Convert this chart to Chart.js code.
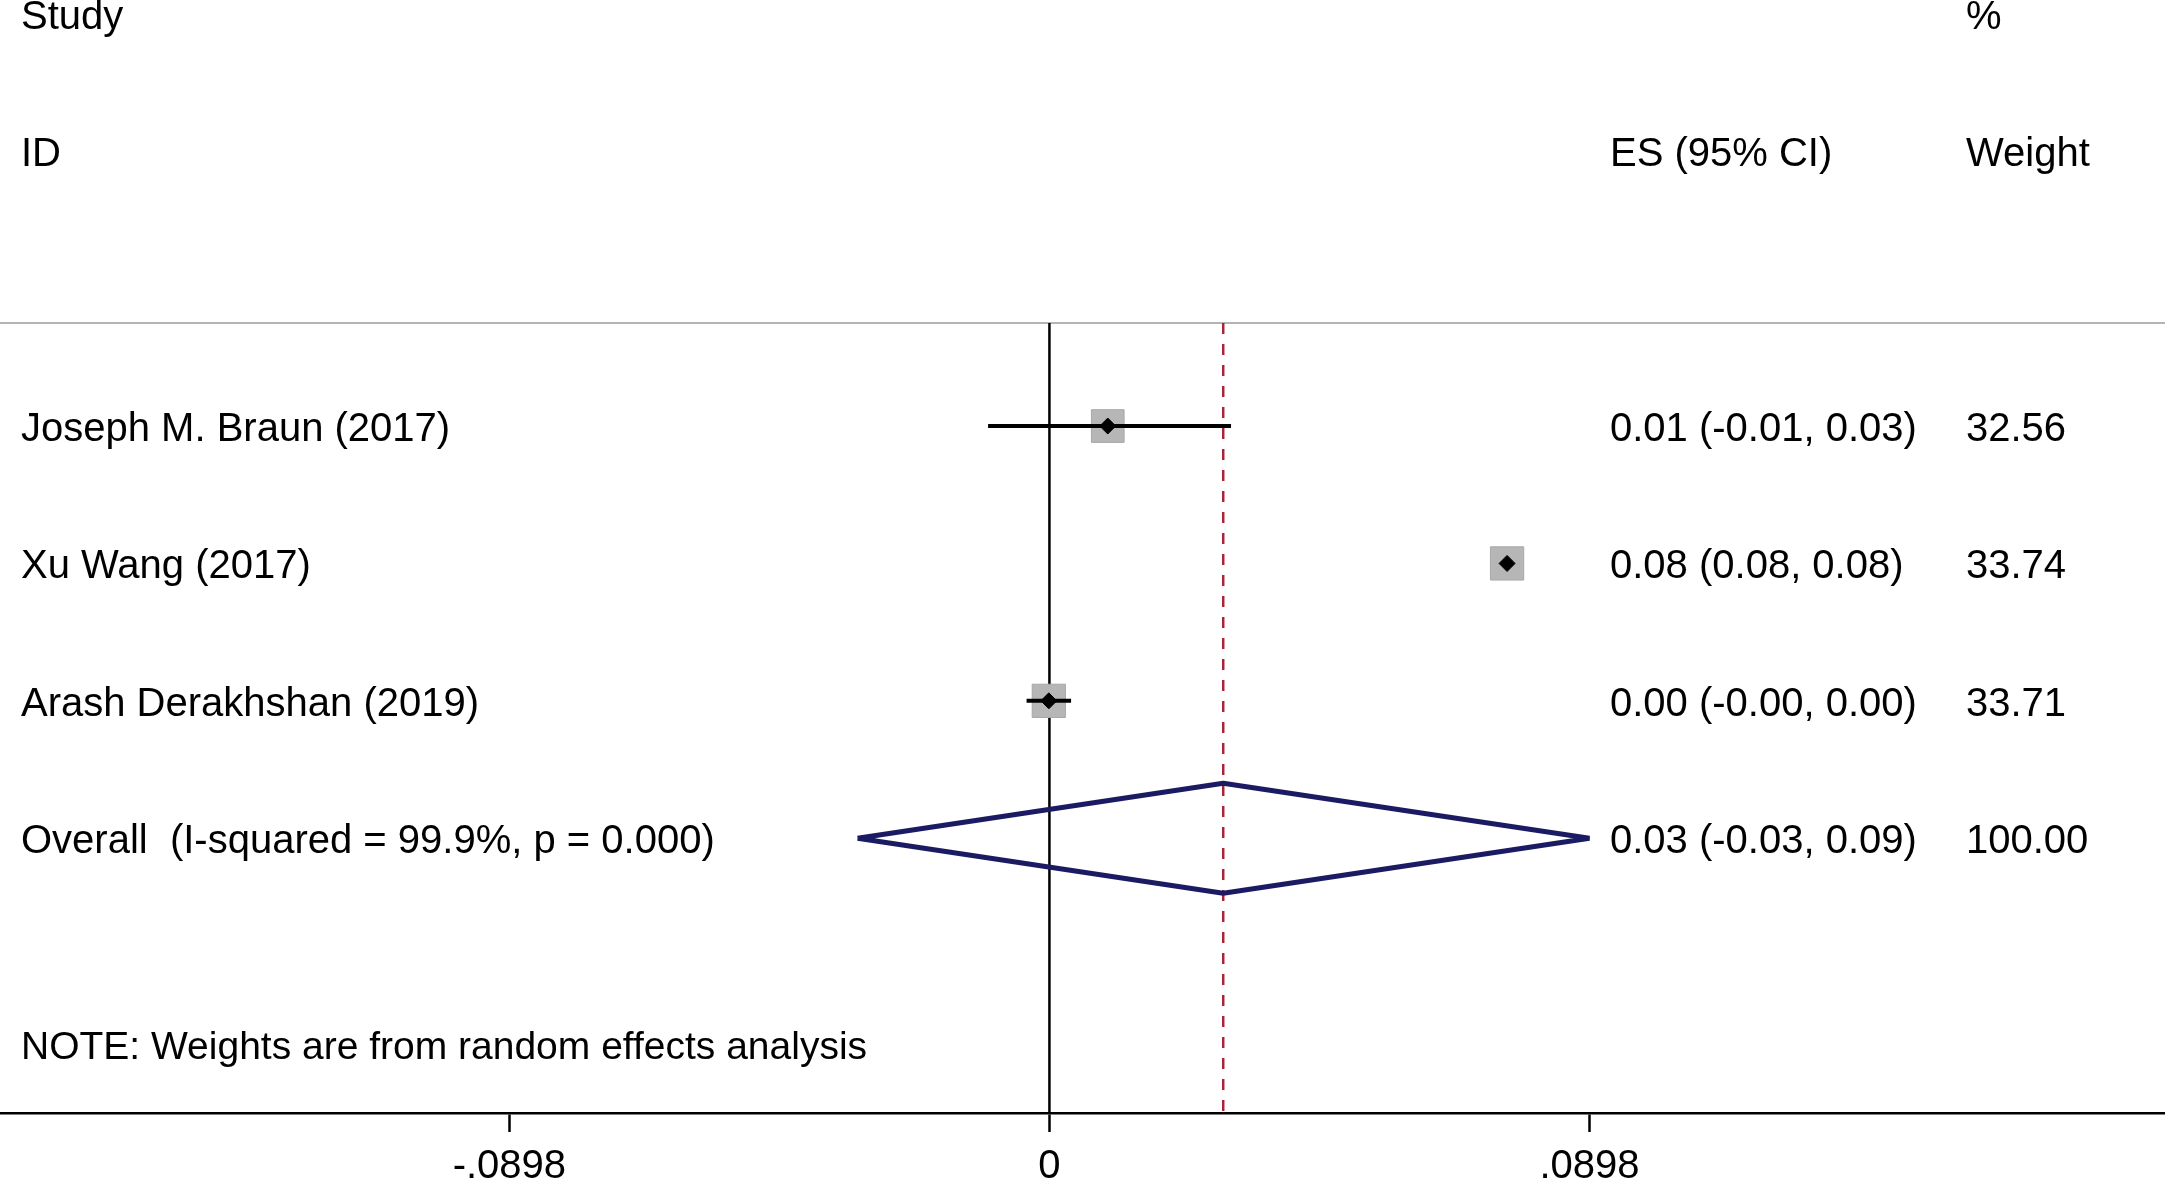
<!DOCTYPE html>
<html>
<head>
<meta charset="utf-8">
<script src="https://cdn.jsdelivr.net/npm/chart.js@4/dist/chart.umd.min.js"></script>
<style>
  html, body { margin: 0; padding: 0; background: #fff; }
  #wrap { width: 2165px; height: 1180px; }
</style>
</head>
<body>
<div id="wrap"><canvas id="forest" width="2165" height="1180"></canvas></div>
<script>
// study rows
var studies   = ['Joseph M. Braun (2017)', 'Xu Wang (2017)', 'Arash Derakhshan (2019)'];
var esValues  = [0.0097, 0.0761, -0.0001];
var ciLow     = [-0.0102, 0.0753, -0.0038];
var ciHigh    = [0.0302, 0.0769, 0.0036];
var esLabels  = ['0.01 (-0.01, 0.03)', '0.08 (0.08, 0.08)', '0.00 (-0.00, 0.00)'];
var weights   = [32.56, 33.74, 33.71];

// pooled estimate
var overallText   = 'Overall  (I-squared = 99.9%, p = 0.000)';
var overallES     = [0.0289];
var overallCI     = [-0.0319, 0.0898];
var overallLabel  = '0.03 (-0.03, 0.09)';
var overallWeight = '100.00';
var noteText      = 'NOTE: Weights are from random effects analysis';

// axis
var tickValues = [-0.0898, 0, 0.0898];
var tickLabels = ['-.0898', '0', '.0898'];

var FONT = '"Liberation Sans", Arial, sans-serif';
var xMin = -0.1745, xMax = 0.1855;
var yTop = 0.25, yBottom = 6;
var overallRow = studies.length + 1;
var noteRow = overallRow + 1.5;

var datasets = [];

// reference lines
datasets.push({
    data: [{x: 0, y: yTop}, {x: 0, y: yBottom}],
    showLine: true, borderColor: '#000', borderWidth: 2.5, pointRadius: 0, order: 10
});
datasets.push({
    data: [{x: overallES[0], y: yTop}, {x: overallES[0], y: yBottom}],
    showLine: true, borderColor: '#a8243a', borderWidth: 2.5, borderDash: [11, 10], pointRadius: 0, order: 9
});

// confidence intervals
studies.forEach(function (s, i) {
    datasets.push({
        data: [{x: ciLow[i], y: i + 1}, {x: ciHigh[i], y: i + 1}],
        showLine: true, borderColor: '#000', borderWidth: 4, pointRadius: 0, order: 6
    });
});

// weight boxes
datasets.push({
    data: studies.map(function (s, i) { return {x: esValues[i], y: i + 1}; }),
    pointStyle: 'rect',
    pointRadius: weights.map(function (w) { return 4.05 * Math.sqrt(w); }),
    backgroundColor: '#b6b6b6', borderColor: '#a9a9a9', borderWidth: 1, order: 7
});

// point estimates
datasets.push({
    data: studies.map(function (s, i) { return {x: esValues[i], y: i + 1}; }),
    pointStyle: 'rectRot', pointRadius: 8,
    backgroundColor: '#000', borderColor: '#000', borderWidth: 1, order: 4
});

// pooled diamond
var h = 0.4;
datasets.push({
    data: [
        {x: overallCI[0], y: overallRow},
        {x: overallES[0], y: overallRow - h},
        {x: overallCI[1], y: overallRow},
        {x: overallES[0], y: overallRow + h},
        {x: overallCI[0], y: overallRow}
    ],
    showLine: true, borderColor: '#1b1b63', borderWidth: 5, pointRadius: 0,
    borderJoinStyle: 'bevel', tension: 0, order: 2
});

var textColumns = {
    id: 'textColumns',
    afterDraw: function (chart) {
        var ctx = chart.ctx;
        var y = chart.scales.y;
        var colStudy = 21, colES = 1610, colW = 1966;
        ctx.save();
        ctx.font = '40px ' + FONT;
        ctx.fillStyle = '#000';
        ctx.textAlign = 'left';
        ctx.textBaseline = 'middle';
        function put(txt, x, row) { ctx.fillText(txt, x, y.getPixelForValue(row) + 4); }
        put('Study', colStudy, -2);
        put('%', colW, -2);
        put('ID', colStudy, -1);
        put('ES (95% CI)', colES, -1);
        put('Weight', colW, -1);
        studies.forEach(function (s, i) {
            put(s, colStudy, i + 1);
            put(esLabels[i], colES, i + 1);
            put(weights[i].toFixed(2), colW, i + 1);
        });
        put(overallText, colStudy, overallRow);
        put(overallLabel, colES, overallRow);
        put(overallWeight, colW, overallRow);
        ctx.font = '39px ' + FONT;
        put(noteText, colStudy, noteRow);
        ctx.restore();
    }
};

new Chart(document.getElementById('forest'), {
    type: 'scatter',
    data: { datasets: datasets },
    plugins: [textColumns],
    options: {
        responsive: false,
        devicePixelRatio: 1,
        animation: false,
        layout: { autoPadding: false, padding: { top: 323, left: 0, right: 0, bottom: 0 } },
        plugins: { legend: { display: false }, tooltip: { enabled: false } },
        scales: {
            x: {
                type: 'linear', position: 'bottom', min: xMin, max: xMax,
                afterBuildTicks: function (axis) {
                    axis.ticks = tickValues.map(function (v) { return {value: v}; });
                },
                afterFit: function (axis) { axis.height = 67; },
                ticks: {
                    autoSkip: false, maxRotation: 0, padding: 22, color: '#000',
                    font: { family: FONT, size: 40, lineHeight: 0.65 },
                    callback: function (v) {
                        var k = tickValues.indexOf(v);
                        return k >= 0 ? tickLabels[k] : '';
                    }
                },
                grid: { drawOnChartArea: false, drawTicks: true, tickLength: 19, tickColor: '#000', tickWidth: 2.5 },
                border: { display: true, color: '#000', width: 2.5 }
            },
            xTop: {
                type: 'linear', position: 'top', min: xMin, max: xMax,
                ticks: { display: false },
                grid: { display: false, drawTicks: false },
                border: { display: true, color: '#b4b4b4', width: 2 }
            },
            y: {
                type: 'linear', display: false, reverse: true, min: yTop, max: yBottom
            }
        }
    }
});
</script>
</body>
</html>
